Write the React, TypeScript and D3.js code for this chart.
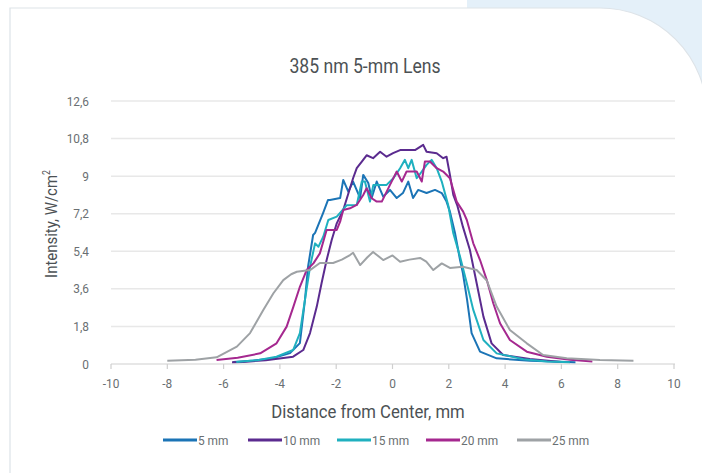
import React from "react";
import * as d3 from "d3";

const title = "385 nm 5-mm Lens";
const xTitle = "Distance from Center, mm";
const yTitle = "Intensity, W/cm";
const xTicks = [-10, -8, -6, -4, -2, 0, 2, 4, 6, 8, 10];
const yTicks = [0, 1.8, 3.6, 5.4, 7.2, 9, 10.8, 12.6];
const seriesNames = ["5 mm", "10 mm", "15 mm", "20 mm", "25 mm"];
const seriesColors = ["#1b74b6", "#5b2b8f", "#1fb0bf", "#a5288f", "#9ea2a5"];

const x5 = [-5.66,-5.0,-4.24,-3.64,-3.29,-3.11,-3.0,-2.82,-2.75,-2.47,-2.29,-2.22,-1.86,-1.75,-1.57,-1.4,-1.15,-1.04,-0.86,-0.74,-0.56,-0.33,-0.09,0.15,0.37,0.56,0.73,0.91,1.21,1.51,1.75,1.92,2.04,2.22,2.4,2.5,2.65,2.81,3.11,3.7,4.88,6.5];
const y5 = [0.1,0.15,0.28,0.52,1.0,3.07,4.66,6.18,6.28,7.22,7.86,7.86,7.95,8.82,8.26,8.74,7.95,9.06,8.67,7.95,8.74,8.02,8.34,7.95,8.19,8.74,7.95,8.34,8.19,8.34,8.19,7.78,7.3,6.28,4.98,4.36,3.07,1.48,0.59,0.27,0.16,0.08];

const x10 = [-5.7,-5.3,-4.5,-3.53,-3.17,-2.93,-2.69,-2.52,-2.34,-2.16,-1.98,-1.75,-1.4,-1.27,-1.09,-0.92,-0.69,-0.44,-0.21,0.02,0.27,0.8,1.09,1.21,1.57,1.8,1.92,2.04,2.16,2.3,2.5,2.75,2.99,3.23,3.52,3.93,4.88,6.0];
const y10 = [0.08,0.1,0.18,0.35,0.67,1.48,2.75,3.87,4.98,5.94,6.74,7.38,8.9,9.38,9.7,10.0,9.86,10.17,9.93,10.1,10.25,10.25,10.5,10.17,10.1,9.86,9.93,9.06,8.1,7.6,6.58,5.46,3.87,2.27,0.99,0.43,0.24,0.1];

const x15 = [-5.55,-4.8,-4.12,-3.53,-3.29,-3.11,-2.93,-2.75,-2.63,-2.46,-2.28,-1.98,-1.63,-1.27,-1.09,-0.98,-0.8,-0.68,-0.38,-0.21,0.03,0.27,0.44,0.56,0.68,0.86,1.04,1.21,1.39,1.57,1.75,1.98,2.16,2.4,2.64,2.87,3.23,3.7,4.65,5.5,6.3];
const y15 = [0.1,0.18,0.35,0.67,1.48,3.07,4.66,5.78,5.62,6.1,6.9,7.06,7.6,7.62,8.74,8.74,7.78,8.58,8.58,8.58,8.9,9.38,9.78,9.38,9.78,8.9,9.22,9.54,9.78,9.38,8.74,7.6,6.26,5.14,3.87,2.59,1.15,0.51,0.23,0.12,0.08];

const x20 = [-6.25,-5.5,-4.7,-4.12,-3.76,-3.52,-3.29,-3.05,-2.81,-2.58,-2.34,-1.98,-1.86,-1.75,-1.51,-1.27,-1.04,-0.92,-0.74,-0.56,-0.38,-0.09,0.15,0.33,0.5,0.86,1.04,1.15,1.33,1.57,1.8,2.04,2.28,2.51,2.64,2.87,3.11,3.35,3.58,3.82,4.17,4.77,5.48,6.3,7.1];
const y20 = [0.19,0.3,0.51,0.99,1.79,2.75,3.7,4.5,4.82,5.3,6.42,6.42,6.82,7.38,7.46,7.62,8.1,8.42,7.94,7.78,7.78,8.58,9.22,8.74,9.22,9.22,8.74,9.7,9.7,9.38,9.22,8.9,7.78,7.3,6.9,5.78,4.98,4.02,2.91,1.95,1.15,0.59,0.35,0.2,0.12];

const x25 = [-8.0,-7.0,-6.25,-5.53,-5.06,-4.59,-4.23,-3.88,-3.6,-3.4,-2.93,-2.58,-2.11,-1.8,-1.51,-1.4,-1.15,-0.9,-0.69,-0.33,0.0,0.27,0.6,0.98,1.2,1.45,1.75,2.04,2.5,2.99,3.35,3.7,4.17,4.77,5.35,6.19,7.37,8.56];
const y25 = [0.16,0.2,0.32,0.83,1.48,2.59,3.39,4.02,4.3,4.42,4.5,4.84,4.84,5.0,5.22,5.33,4.74,5.1,5.37,4.98,5.2,4.9,5.0,5.08,4.9,4.5,4.82,4.6,4.66,4.5,4.0,2.75,1.63,0.99,0.43,0.27,0.19,0.16];

const seriesX = [x5, x10, x15, x20, x25];
const seriesY = [y5, y10, y15, y20, y25];

const W = 702;
const H = 473;
const FONT = "Roboto, 'Noto Sans', sans-serif";
const SQ = 0.88;

type TProps = {
  x: number;
  y: number;
  size: number;
  anchor?: "start" | "middle" | "end";
  fill?: string;
  rotate?: number;
  children: React.ReactNode;
};

function T({ x, y, size, anchor = "start", fill = "#5f6467", rotate = 0, children }: TProps) {
  return (
    <g transform={`translate(${x},${y}) rotate(${rotate}) scale(${SQ},1)`}>
      <text x={0} y={0} textAnchor={anchor} fontFamily={FONT} fontSize={size} fill={fill}>
        {children}
      </text>
    </g>
  );
}

export default function App() {
  const x = d3.scaleLinear().domain([-10, 10]).range([111, 674]);
  const y = d3.scaleLinear().domain([0, 12.6]).range([364, 101]);
  const line = d3
    .line<[number, number]>()
    .x((d) => x(d[0]))
    .y((d) => y(d[1]));

  const legendX = [163, 248, 337, 426, 517];

  return (
    <svg
      width={W}
      height={H}
      style={{ position: "absolute", left: 0, top: 0, background: "#fff" }}
    >
      <rect x={467} y={0} width={W - 467} height={130} fill="#e4f0f9" />
      <path
        d={`M10,${H + 2} V8 H600 A107,107 0 0 1 707,115 V${H + 2}`}
        fill="#ffffff"
        stroke="#dde3e8"
        strokeWidth={1.2}
      />
      <T x={365} y={73} size={20} anchor="middle" fill="#4c5154">
        {title}
      </T>

      {yTicks.map((t) => (
        <g key={"y" + t}>
          {t !== 0 && (
            <line
              x1={111}
              x2={675}
              y1={y(t)}
              y2={y(t)}
              stroke="#e8e8e8"
              strokeWidth={1.5}
            />
          )}
          <T x={89} y={y(t) + 4.5} size={13.5} anchor="end" fill="#6a6f72">
            {String(t).replace(".", ",")}
          </T>
        </g>
      ))}
      <line x1={111} x2={675} y1={y(0)} y2={y(0)} stroke="#cfcfcf" strokeWidth={1.2} />
      {xTicks.map((t) => (
        <g key={"x" + t}>
          <line x1={x(t)} x2={x(t)} y1={y(0)} y2={y(0) + 5} stroke="#cfcfcf" strokeWidth={1.2} />
          <T x={x(t)} y={388} size={13.5} anchor="middle" fill="#6a6f72">
            {t}
          </T>
        </g>
      ))}

      {seriesX.map((xs, i) => {
        const pts: [number, number][] = xs.map((v, j) => [v, seriesY[i][j]]);
        return (
          <path
            key={"s" + i}
            d={line(pts) || ""}
            fill="none"
            stroke={seriesColors[i]}
            strokeWidth={2}
            strokeLinejoin="round"
          />
        );
      })}

      <T x={368} y={418} size={19} anchor="middle" fill="#4c5154">
        {xTitle}
      </T>
      <T x={57} y={224} size={17} anchor="middle" fill="#4c5154" rotate={-90}>
        {yTitle}
        <tspan dy={-7} fontSize={10}>2</tspan>
      </T>

      {seriesNames.map((n, i) => (
        <g key={"l" + i}>
          <line
            x1={legendX[i]}
            x2={legendX[i] + 34}
            y1={440}
            y2={440}
            stroke={seriesColors[i]}
            strokeWidth={3}
          />
          <T x={legendX[i] + 35} y={445} size={13.5} fill="#6a6f72">
            {n}
          </T>
        </g>
      ))}
    </svg>
  );
}
